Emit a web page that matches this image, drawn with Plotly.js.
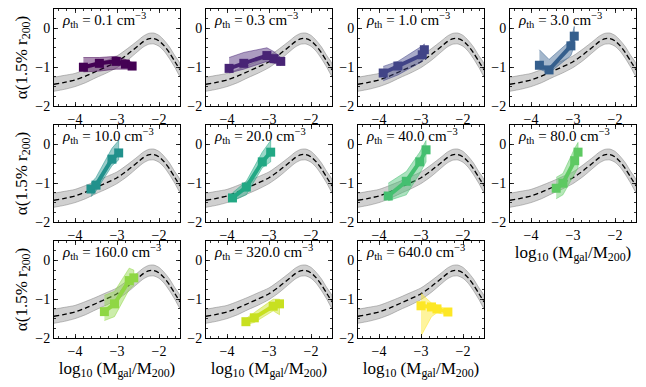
<!DOCTYPE html>
<html>
<head>
<meta charset="utf-8">
<script src="https://cdn.plot.ly/plotly-3.0.1.min.js"></script>
<style>
  body { margin: 0; background: #fff; }
  #chart { width: 646px; height: 387px; }
</style>
</head>
<body>
<div id="chart"></div>
<script>
// reference relation (dashed curve + grey band)
const curveX = [-4.5, -4.25, -4.0, -3.75, -3.5, -3.25, -3.0, -2.75, -2.5, -2.375, -2.25, -2.125, -2.0, -1.875, -1.75, -1.625, -1.5];
const curveY = [-1.44, -1.39, -1.33, -1.23, -1.11, -0.99, -0.86, -0.67, -0.45, -0.34, -0.27, -0.26, -0.32, -0.45, -0.63, -0.85, -1.07];
const curveErr = [0.18, 0.18, 0.17, 0.17, 0.16, 0.16, 0.15, 0.15, 0.14, 0.14, 0.14, 0.14, 0.14, 0.14, 0.15, 0.15, 0.16];

// density thresholds, one panel each
const densities = ['0.1', '0.3', '1.0', '3.0', '10.0', '20.0', '40.0', '80.0', '160.0', '320.0', '640.0'];

// simulated points per panel
const massX = [
  [-3.8, -3.42, -3.02, -2.8, -2.64],
  [-3.95, -3.6, -3.05, -2.88, -2.72],
  [-3.9, -3.55, -2.97, -2.92],
  [-3.8, -3.57, -3.05, -2.97],
  [-3.62, -3.5, -3.12, -2.96],
  [-3.87, -3.54, -3.16, -2.96],
  [-3.78, -3.35, -3.03, -2.88],
  [-3.4, -3.24, -2.96, -2.88],
  [-3.3, -3.06, -2.71, -2.6],
  [-3.55, -3.35, -2.9, -2.75],
  [-3.0, -2.75, -2.62, -2.36]
];
const alphaY = [
  [-1.0, -0.9, -0.85, -0.92, -0.97],
  [-1.03, -0.9, -0.7, -0.78, -0.85],
  [-1.15, -0.97, -0.68, -0.55],
  [-0.95, -1.07, -0.45, -0.2],
  [-1.15, -1.05, -0.38, -0.22],
  [-1.38, -1.1, -0.45, -0.2],
  [-1.33, -0.95, -0.45, -0.14],
  [-1.13, -1.0, -0.42, -0.2],
  [-1.32, -1.12, -0.52, -0.45],
  [-1.58, -1.48, -1.18, -1.12],
  [-1.17, -1.2, -1.25, -1.33]
];
const alphaHi = [
  [-0.75, -0.75, -0.72, -0.8, -0.88],
  [-0.75, -0.62, -0.5, -0.6, -0.75],
  [-0.98, -0.85, -0.45, -0.4],
  [-0.55, -0.8, -0.3, 0.05],
  [-1.0, -0.85, -0.1, 0.1],
  [-1.25, -0.95, -0.2, 0.1],
  [-1.0, -0.7, -0.2, 0.1],
  [-0.85, -0.75, -0.1, 0.05],
  [-0.9, -0.8, -0.2, -0.25],
  [-1.5, -1.35, -1.0, -1.0],
  [-0.85, -1.1, -1.15, -1.28]
];
const alphaLo = [
  [-1.12, -1.1, -1.05, -1.05, -1.05],
  [-1.15, -1.05, -0.85, -0.9, -0.95],
  [-1.35, -1.2, -0.85, -0.75],
  [-1.05, -1.15, -0.7, -0.45],
  [-1.35, -1.2, -0.55, -0.4],
  [-1.45, -1.3, -0.6, -0.45],
  [-1.45, -1.3, -0.75, -0.45],
  [-1.4, -1.3, -0.75, -0.6],
  [-1.55, -1.45, -0.75, -0.65],
  [-1.65, -1.6, -1.3, -1.4],
  [-1.95, -1.45, -1.35, -1.4]
];

const colors = ['#440154', '#482475', '#414487', '#355f8d', '#21918c', '#22a884',
                '#44bf70', '#5ec962', '#8fd744', '#c8e020', '#fde725'];

const W = 646, H = 387;
const colLeft = [54, 206, 358, 510], panelW = 126;
const rowTop = [9, 125, 241], panelH = 97;
const font = 'Liberation Serif, DejaVu Serif, serif';

function rgba(hex, a) {
  const n = parseInt(hex.slice(1), 16);
  return 'rgba(' + (n >> 16) + ',' + ((n >> 8) & 255) + ',' + (n & 255) + ',' + a + ')';
}

const data = [];
const layout = {
  width: W, height: H,
  margin: {l: 0, r: 0, t: 0, b: 0},
  paper_bgcolor: '#fff', plot_bgcolor: '#fff',
  showlegend: false,
  font: {family: font, size: 14, color: '#000'},
  annotations: []
};

const bandX = curveX.concat(curveX.slice().reverse());
const bandY = curveY.map((v, i) => v + curveErr[i])
  .concat(curveY.map((v, i) => v - curveErr[i]).reverse());

densities.forEach((d, i) => {
  const n = i + 1;
  const row = Math.floor(i / 4), col = i % 4;
  const xa = 'x' + (n === 1 ? '' : n), ya = 'y' + (n === 1 ? '' : n);

  data.push({x: bandX, y: bandY, xaxis: xa, yaxis: ya, type: 'scatter', mode: 'lines',
    fill: 'toself', fillcolor: 'rgba(150,150,150,0.45)',
    line: {color: 'rgba(120,120,120,0.6)', width: 0.8, shape: 'spline', smoothing: 0.7},
    hoverinfo: 'skip'});
  data.push({x: curveX, y: curveY, xaxis: xa, yaxis: ya, type: 'scatter', mode: 'lines',
    line: {color: '#000', width: 1.3, dash: '5px,3px', shape: 'spline', smoothing: 0.7}});

  const px = massX[i], lo = alphaLo[i], hi = alphaHi[i];
  data.push({x: px.concat(px.slice().reverse()), y: hi.concat(lo.slice().reverse()),
    xaxis: xa, yaxis: ya, type: 'scatter', mode: 'lines', fill: 'toself',
    fillcolor: rgba(colors[i], 0.45), line: {color: rgba(colors[i], 0.5), width: 1}});
  data.push({x: px, y: alphaY[i], xaxis: xa, yaxis: ya, type: 'scatter', mode: 'lines+markers',
    line: {color: colors[i], width: 4}, marker: {symbol: 'square', size: 9, color: colors[i]}});

  const left = colLeft[col], top = rowTop[row];
  const axCommon = {
    showgrid: false, zeroline: false, showline: true, linecolor: '#000', linewidth: 1,
    mirror: 'allticks', ticks: 'inside', ticklen: 4, tickwidth: 0.8, tickcolor: '#000',
    tickfont: {family: font, size: 14}
  };
  const xax = Object.assign({}, axCommon, {
    domain: [left / W, (left + panelW) / W], range: [-4.5, -1.5],
    tickvals: [-4, -3, -2], anchor: ya,
    minor: {ticks: 'inside', ticklen: 2, dtick: 0.2, tick0: -4, tickcolor: '#000'}
  });
  const yax = Object.assign({}, axCommon, {
    domain: [1 - (top + panelH) / H, 1 - top / H], range: [-2, 0.5],
    tickvals: [-2, -1, 0], anchor: xa,
    minor: {ticks: 'inside', ticklen: 2, dtick: 0.25, tick0: 0, tickcolor: '#000'}
  });
  if (col === 0) {
    yax.title = {text: 'α(1.5% r<sub>200</sub>)', font: {family: font, size: 17}, standoff: 3};
  }
  if (row === 2 || i === 7) {
    xax.title = {text: 'log<sub>10</sub> (M<sub>gal</sub>/M<sub>200</sub>)', font: {family: font, size: 17}, standoff: 0};
  }
  layout['xaxis' + (n === 1 ? '' : n)] = xax;
  layout['yaxis' + (n === 1 ? '' : n)] = yax;

  layout.annotations.push({
    xref: xa + ' domain', yref: ya + ' domain', x: 0.05, y: 1.01,
    xanchor: 'left', yanchor: 'top', showarrow: false,
    text: '<i>ρ</i><sub>th</sub> = ' + d + ' cm<sup>−3</sup>',
    font: {family: font, size: 15, color: '#000'}
  });
});

Plotly.newPlot('chart', data, layout, {staticPlot: true});
</script>
</body>
</html>
